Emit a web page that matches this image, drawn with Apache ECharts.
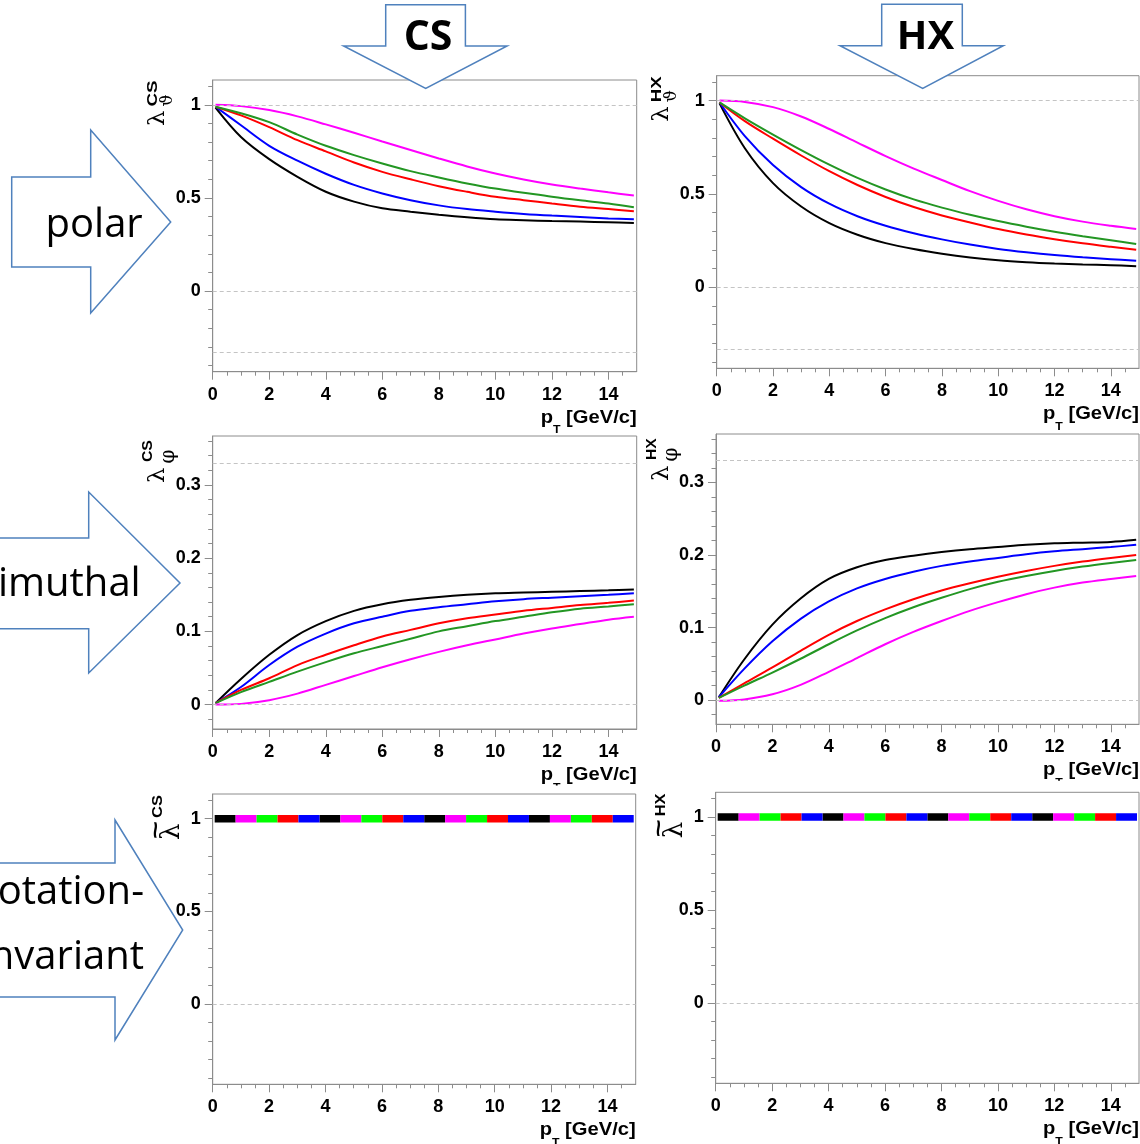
<!DOCTYPE html>
<html><head><meta charset="utf-8">
<script src="https://cdn.jsdelivr.net/npm/echarts@6/dist/echarts.min.js"></script>
<style>html,body{margin:0;padding:0;background:#fff;overflow:hidden}#c{width:1140px;height:1144px}</style>
</head><body><div id="c"></div>
<script>
// ---------------- data ----------------
const pT = [0.1, 1, 2, 3, 4, 5, 6, 7, 8, 9, 10, 11, 12, 13, 14, 14.9];

// polar anisotropy, Collins-Soper frame
const csPolarBlack   = [0.985, 0.827, 0.708, 0.613, 0.533, 0.480, 0.444, 0.426, 0.410, 0.396, 0.385, 0.380, 0.376, 0.373, 0.369, 0.365];
const csPolarBlue    = [0.990, 0.890, 0.780, 0.700, 0.630, 0.570, 0.524, 0.488, 0.460, 0.440, 0.426, 0.414, 0.405, 0.398, 0.390, 0.385];
const csPolarRed     = [0.990, 0.943, 0.880, 0.810, 0.750, 0.690, 0.640, 0.600, 0.563, 0.533, 0.506, 0.488, 0.470, 0.453, 0.440, 0.428];
const csPolarGreen   = [0.990, 0.955, 0.907, 0.840, 0.780, 0.730, 0.685, 0.644, 0.610, 0.578, 0.550, 0.528, 0.506, 0.487, 0.470, 0.450];
const csPolarMagenta = [1.000, 0.993, 0.972, 0.938, 0.895, 0.850, 0.803, 0.757, 0.712, 0.669, 0.631, 0.599, 0.572, 0.550, 0.530, 0.513];

// polar anisotropy, helicity frame
const hxPolarBlack   = [0.985, 0.745, 0.558, 0.433, 0.344, 0.282, 0.237, 0.205, 0.180, 0.160, 0.145, 0.135, 0.128, 0.123, 0.119, 0.113];
const hxPolarBlue    = [0.990, 0.810, 0.655, 0.537, 0.448, 0.381, 0.330, 0.290, 0.257, 0.229, 0.206, 0.188, 0.173, 0.161, 0.151, 0.142];
const hxPolarRed     = [0.990, 0.890, 0.796, 0.706, 0.622, 0.548, 0.484, 0.430, 0.385, 0.347, 0.312, 0.283, 0.258, 0.236, 0.217, 0.201];
const hxPolarGreen   = [0.990, 0.905, 0.818, 0.735, 0.657, 0.586, 0.524, 0.471, 0.427, 0.389, 0.355, 0.325, 0.298, 0.274, 0.252, 0.232];
const hxPolarMagenta = [1.000, 0.993, 0.965, 0.915, 0.848, 0.775, 0.703, 0.636, 0.575, 0.515, 0.463, 0.418, 0.381, 0.352, 0.330, 0.313];

// azimuthal anisotropy, Collins-Soper frame
const csAzimBlack   = [0.002, 0.035, 0.068, 0.095, 0.114, 0.128, 0.137, 0.143, 0.147, 0.150, 0.152, 0.153, 0.154, 0.155, 0.156, 0.157];
const csAzimBlue    = [0.002, 0.024, 0.054, 0.079, 0.097, 0.111, 0.120, 0.128, 0.133, 0.137, 0.141, 0.144, 0.146, 0.148, 0.150, 0.152];
const csAzimRed     = [0.002, 0.020, 0.036, 0.054, 0.068, 0.081, 0.093, 0.102, 0.111, 0.118, 0.123, 0.128, 0.132, 0.136, 0.139, 0.142];
const csAzimGreen   = [0.002, 0.017, 0.031, 0.045, 0.058, 0.070, 0.080, 0.090, 0.100, 0.107, 0.114, 0.120, 0.126, 0.131, 0.134, 0.137];
const csAzimMagenta = [0.000, 0.001, 0.006, 0.015, 0.027, 0.039, 0.051, 0.062, 0.072, 0.081, 0.089, 0.097, 0.104, 0.110, 0.116, 0.120];

// azimuthal anisotropy, helicity frame
const hxAzimBlack   = [0.004, 0.056, 0.104, 0.140, 0.167, 0.183, 0.193, 0.199, 0.204, 0.208, 0.211, 0.214, 0.216, 0.217, 0.218, 0.221];
const hxAzimBlue    = [0.004, 0.043, 0.081, 0.112, 0.136, 0.154, 0.167, 0.177, 0.185, 0.191, 0.196, 0.201, 0.205, 0.208, 0.211, 0.214];
const hxAzimRed     = [0.003, 0.023, 0.045, 0.068, 0.090, 0.109, 0.125, 0.139, 0.151, 0.161, 0.170, 0.178, 0.185, 0.191, 0.196, 0.200];
const hxAzimGreen   = [0.003, 0.020, 0.038, 0.057, 0.077, 0.096, 0.113, 0.128, 0.141, 0.153, 0.163, 0.171, 0.178, 0.184, 0.189, 0.193];
const hxAzimMagenta = [-0.001, 0.001, 0.008, 0.021, 0.039, 0.058, 0.077, 0.094, 0.109, 0.123, 0.135, 0.146, 0.155, 0.162, 0.167, 0.171];

// rotation-invariant combination (identical for all five scenarios)
const rotInvX  = [0.07, 14.93];
const rotInvCS = [1, 1];
const rotInvHX = [1, 1];

// ticks / reference lines
const xMajorTicks = [0, 2, 4, 6, 8, 10, 12, 14];
const xMinorTicks = [0.5, 1, 1.5, 2.5, 3, 3.5, 4.5, 5, 5.5, 6.5, 7, 7.5, 8.5, 9, 9.5, 10.5, 11, 11.5, 12.5, 13, 13.5, 14.5];
const yMajorPolar = [0, 0.5, 1];
const yMinorPolar = [-0.4, -0.3, -0.2, -0.1, 0.1, 0.2, 0.3, 0.4, 0.6, 0.7, 0.8, 0.9, 1.1];
const yMajorAzim  = [0, 0.1, 0.2, 0.3];
const yMinorAzim  = [-0.02, 0.02, 0.04, 0.06, 0.08, 0.12, 0.14, 0.16, 0.18, 0.22, 0.24, 0.26, 0.28, 0.32, 0.34, 0.36];
const refPolar = [1, 0, -1/3];
const refAzim  = [1/3, 0];
const refRot   = [0];

// ---------------- style / layout ----------------
const C = {black:'#000000', blue:'#0000ff', red:'#ff0000', green:'#239623', magenta:'#ff00ff'};
const barColors = ['#000000', '#ff00ff', '#00ff00', '#ff0000', '#0000ff'];
const frameColor = '#8c8c8c';
const grids = [
  {left:212.7, top:80,    width:424,   height:291.7},
  {left:716.7, top:75.7,  width:422.3, height:292.6},
  {left:212.7, top:436,   width:424,   height:293},
  {left:716,   top:434,   width:423,   height:290.3},
  {left:212.7, top:794,   width:423,   height:290.3},
  {left:715.7, top:792.3, width:423.3, height:291}
];
const xRange = [0, 15];
const yPolar = [-0.4333, 1.1333];
const yAzim  = [-0.0333, 0.3667];

const panels = [
  {kind:'polar', y:yPolar, maj:yMajorPolar, min:yMinorPolar, ref:refPolar, sup:'CS', sub:'\u03D1',
   curves:[csPolarBlack, csPolarBlue, csPolarRed, csPolarGreen, csPolarMagenta]},
  {kind:'polar', y:yPolar, maj:yMajorPolar, min:yMinorPolar, ref:refPolar, sup:'HX', sub:'\u03D1',
   curves:[hxPolarBlack, hxPolarBlue, hxPolarRed, hxPolarGreen, hxPolarMagenta]},
  {kind:'azim', y:yAzim, maj:yMajorAzim, min:yMinorAzim, ref:refAzim, sup:'CS', sub:'\u03C6',
   curves:[csAzimBlack, csAzimBlue, csAzimRed, csAzimGreen, csAzimMagenta]},
  {kind:'azim', y:yAzim, maj:yMajorAzim, min:yMinorAzim, ref:refAzim, sup:'HX', sub:'\u03C6',
   curves:[hxAzimBlack, hxAzimBlue, hxAzimRed, hxAzimGreen, hxAzimMagenta]},
  {kind:'rot', y:yPolar, maj:yMajorPolar, min:yMinorPolar, ref:refRot, sup:'CS', vals:rotInvCS},
  {kind:'rot', y:yPolar, maj:yMajorPolar, min:yMinorPolar, ref:refRot, sup:'HX', vals:rotInvHX}
];
const curveColors = [C.black, C.blue, C.red, C.green, C.magenta];

const tickFont = {fontFamily:'"Liberation Sans", Arial, sans-serif', fontWeight:'bold', fontSize:18, color:'#000'};

const xAxis = [], yAxis = [], series = [], graphic = [];

const mctx = document.createElement('canvas').getContext('2d');
function textW(font, s){ mctx.font = font; return mctx.measureText(s).width; }

panels.forEach((p, i) => {
  const g = grids[i];
  xAxis.push({gridIndex:i, type:'value', min:xRange[0], max:xRange[1], position:'bottom',
    axisLine:{show:true, onZero:false, lineStyle:{color:frameColor, width:1}},
    axisTick:{show:true, inside:false, length:8, customValues:xMajorTicks, lineStyle:{color:frameColor}},
    axisLabel:{show:true, customValues:xMajorTicks, margin:14, ...tickFont},
    splitLine:{show:false}});
  xAxis.push({gridIndex:i, type:'value', min:xRange[0], max:xRange[1], position:'bottom',
    axisLine:{show:false, onZero:false},
    axisTick:{show:true, inside:false, length:4, customValues:xMinorTicks, lineStyle:{color:frameColor}},
    axisLabel:{show:false}, splitLine:{show:false}});
  yAxis.push({gridIndex:i, type:'value', min:p.y[0], max:p.y[1], position:'left',
    axisLine:{show:true, onZero:false, lineStyle:{color:frameColor, width:1}},
    axisTick:{show:true, inside:false, length:8, customValues:p.maj, lineStyle:{color:frameColor}},
    axisLabel:{show:true, customValues:p.maj, margin:12, ...tickFont},
    splitLine:{show:false}});
  yAxis.push({gridIndex:i, type:'value', min:p.y[0], max:p.y[1], position:'left',
    axisLine:{show:false, onZero:false},
    axisTick:{show:true, inside:false, length:4.5, customValues:p.min, lineStyle:{color:frameColor}},
    axisLabel:{show:false}, splitLine:{show:false}});

  // dashed reference lines
  series.push({type:'line', xAxisIndex:2*i, yAxisIndex:2*i, data:[], silent:true, z:1,
    markLine:{silent:true, symbol:['none','none'], label:{show:false}, animation:false,
      lineStyle:{color:'#c4c4c4', type:[4,3], width:1},
      data:p.ref.map(v => ({yAxis:v}))}});

  if (p.kind !== 'rot') {
    p.curves.forEach((arr, k) => {
      series.push({type:'line', xAxisIndex:2*i, yAxisIndex:2*i, showSymbol:false, symbol:'none',
        smooth:0.33, clip:true, z:3,
        lineStyle:{color:curveColors[k], width:2}, itemStyle:{color:curveColors[k]},
        data:pT.map((x, j) => [x, arr[j]])});
    });
  } else {
    const nSeg = 4 * barColors.length;
    const seg = g.width / (xRange[1]-xRange[0]) * (rotInvX[1]-rotInvX[0]) / nSeg;
    const period = seg * barColors.length;
    barColors.forEach((col, k) => {
      series.push({type:'line', xAxisIndex:2*i, yAxisIndex:2*i, showSymbol:false, symbol:'none', z:4,
        lineStyle:{color:col, width:7.5, type:[seg, period-seg], dashOffset:((barColors.length-k)*seg) % period, cap:'butt'},
        data:rotInvX.map((x, j) => [x, p.vals[j]])});
    });
  }

  // y-axis title (rotated, reads bottom to top)
  const children = [];
  let bx, by;
  if (p.kind === 'polar') {
    bx = g.left - 43; by = g.top + 46;
    children.push({type:'text', x:0, y:0, scaleX:1.1, style:{text:'\u03BB', font:'22px "DejaVu Serif"', fill:'#000', verticalAlign:'bottom'}});
    children.push({type:'text', x:19.5, y:6.2, style:{text:p.sub, font:'17px "DejaVu Serif"', fill:'#000', verticalAlign:'bottom'}});
    children.push({type:'text', x:19.5, y:-9, scaleX:1.25, style:{text:p.sup, font:'bold 15px "Liberation Sans"', fill:'#000', verticalAlign:'bottom'}});
  } else if (p.kind === 'azim') {
    bx = g.left - 43; by = g.top + 47;
    children.push({type:'text', x:0, y:0, scaleX:1.1, style:{text:'\u03BB', font:'22px "DejaVu Serif"', fill:'#000', verticalAlign:'bottom'}});
    children.push({type:'text', x:19.5, y:9, style:{text:p.sub, font:'20px "DejaVu Serif"', fill:'#000', verticalAlign:'bottom'}});
    children.push({type:'text', x:21, y:-14, scaleX:1.05, style:{text:p.sup, font:'bold 15px "Liberation Sans"', fill:'#000', verticalAlign:'bottom'}});
  } else {
    bx = g.left - 27; by = g.top + 46;
    children.push({type:'text', x:0, y:0, style:{text:'\u03BB', font:'26px "DejaVu Serif"', fill:'#000', verticalAlign:'bottom'}});
    children.push({type:'text', x:10, y:-29, scaleX:1.4, style:{text:'~', font:'bold 22px "Liberation Sans"', fill:'#000', verticalAlign:'middle', align:'center'}});
    children.push({type:'text', x:22, y:-20, scaleX:1.1, style:{text:p.sup, font:'bold 15px "Liberation Sans"', fill:'#000', verticalAlign:'bottom'}});
  }
  graphic.push({type:'group', x:bx, y:by, rotation:Math.PI/2, z:120, children});

  // x-axis title  p_T [GeV/c]
  const fBig = 'bold 18px "Liberation Sans"', fSmall = 'bold 11px "Liberation Sans"';
  const sx = 1.12;
  const R = g.left + g.width;
  const base = g.top + g.height + 52.3;
  const wRest = textW(fBig, ' [GeV/c]') * sx;
  const wT = textW(fSmall, 'T') * sx;
  graphic.push({type:'text', x:R, y:base - 0.3465*18, scaleX:sx, z:110, style:{text:' [GeV/c]', font:fBig, fill:'#000', align:'right', verticalAlign:'middle'}});
  graphic.push({type:'text', x:R - wRest, y:base + 10 - 0.3465*11, scaleX:sx, z:110, style:{text:'T', font:fSmall, fill:'#000', align:'right', verticalAlign:'middle'}});
  graphic.push({type:'text', x:R - wRest - wT, y:base - 0.3465*18, scaleX:sx, z:110, style:{text:'p', font:fBig, fill:'#000', align:'right', verticalAlign:'middle'}});
  p.titleBase = base;
});

// the pads of row 3 hide the lower part of the row-2 axis titles
[[2, 4], [3, 5]].forEach(([a, b]) => {
  const g = grids[a], gn = grids[b];
  const R = g.left + g.width;
  const y0 = panels[a].titleBase + 4.2;
  graphic.push({type:'rect', z:115, shape:{x:R - 112, y:y0, width:114, height:Math.max(1, gn.top - 1.2 - y0)}, style:{fill:'#fff'}});
});

// block arrows
const arrowStyle = {fill:'#ffffff', stroke:'#4f81bd', lineWidth:1.5};
const arrows = [
  [[385.7,4.7],[465.4,4.7],[465.4,46],[507.1,46],[425.7,88.3],[343.6,46],[385.7,46]],
  [[881.7,4.3],[962.3,4.3],[962.3,45.7],[1003.3,45.7],[922.7,88.3],[840,45.7],[881.7,45.7]],
  [[11.7,177],[90.7,177],[90.7,130],[170.7,222],[90.7,313],[90.7,267],[11.7,267]],
  [[-5,538],[88.7,538],[88.7,492],[180,583],[88.7,673],[88.7,628.7],[-5,628.7]],
  [[-5,863],[115,863],[115,820],[182.7,930],[115,1040],[115,997],[-5,997]]
];
arrows.forEach(pts => graphic.push({type:'polygon', z:100, shape:{points:pts}, style:arrowStyle}));

const arrowText = [
  {t:'CS', x:428, y:38.7, font:'bold 41px "Open Sans"', align:'center'},
  {t:'HX', x:925.5, y:37.8, font:'bold 40px "Open Sans"', align:'center'},
  {t:'polar', x:142.7, y:225.5, font:'40px "Open Sans"', align:'right'},
  {t:'azimuthal', x:140.7, y:584.5, font:'40px "Open Sans"', align:'right'},
  {t:'rotation-', x:144, y:892.5, font:'40px "Open Sans"', align:'right'},
  {t:'invariant', x:144, y:957.5, font:'40px "Open Sans"', align:'right'}
];
arrowText.forEach(a => graphic.push({type:'text', z:101, x:a.x, y:a.y,
  style:{text:a.t, font:a.font, fill:'#000', align:a.align, verticalAlign:'middle'}}));

const chart = echarts.init(document.getElementById('c'), null, {renderer:'canvas'});
chart.setOption({
  animation:false,
  backgroundColor:'#ffffff',
  grid: grids.map(g => ({...g, show:true, borderColor:frameColor, borderWidth:1, backgroundColor:'transparent', containLabel:false})),
  xAxis, yAxis, series, graphic
});
</script>
</body></html>
